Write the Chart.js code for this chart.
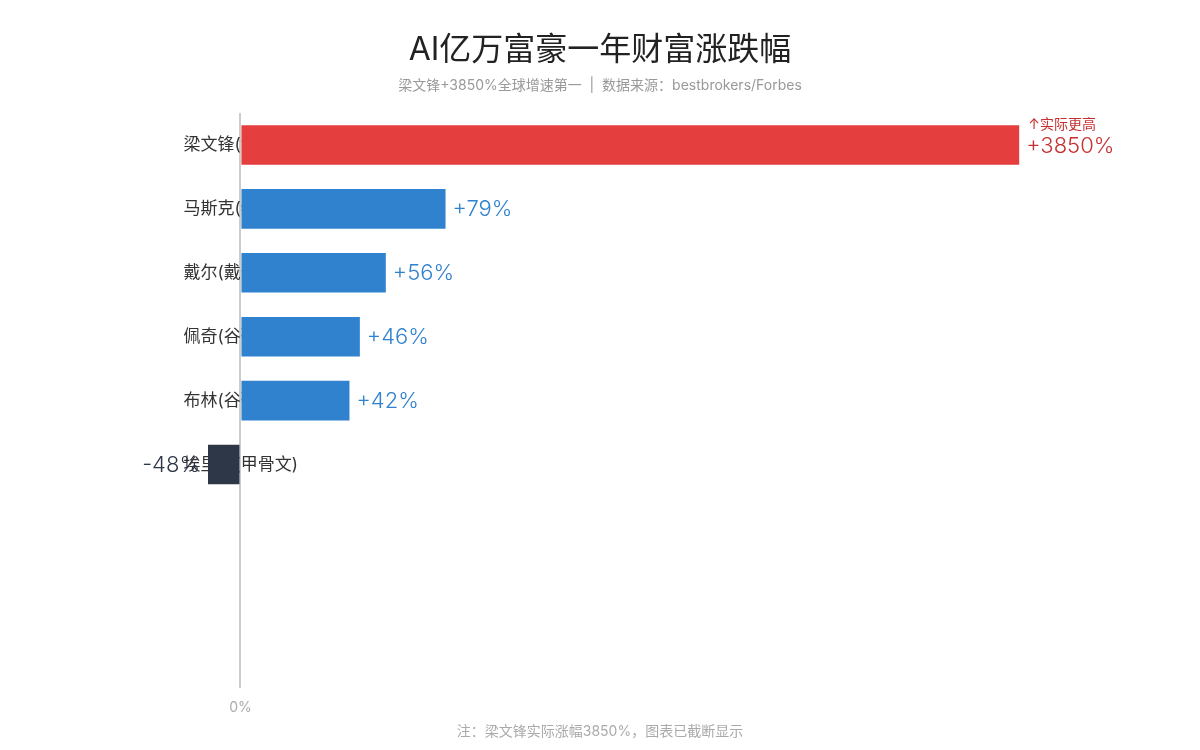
<!DOCTYPE html>
<html>
<head>
<meta charset="utf-8">
<script src="https://cdn.jsdelivr.net/npm/chart.js@4.4.1/dist/chart.umd.min.js"></script>
<style>
  html, body { margin: 0; padding: 0; background: #ffffff; }
  #wrap { width: 1200px; height: 750px; position: relative; }
</style>
</head>
<body>
<div id="wrap"><canvas id="c" width="1200" height="750"></canvas></div>
<script>
// ---- data ----
const names = ['梁文锋(深度求索)', '马斯克(特斯拉)', '戴尔(戴尔科技)', '佩奇(谷歌)', '布林(谷歌)', '埃里森(甲骨文)'];
const changes = [3850, 79, 56, 46, 42, -48];
const emptySlots = ['', '', ''];
const displayCap = 300;          // bars above this are truncated
const xTickLabels = ['0%'];
const titleText = 'AI亿万富豪一年财富涨跌幅';
const subtitleText = '梁文锋+3850%全球增速第一  |  数据来源：bestbrokers/Forbes';
const noteText = '注：梁文锋实际涨幅3850%，图表已截断显示';
const cappedNote = '↑实际更高';

// ---- styles ----
const FONT = 'Inter, "Noto Sans CJK SC", sans-serif';
const RED = '#e53e3e', RED_TEXT = '#c53030';
const BLUE = '#3182ce';
const DARK = '#2d3748';

const labels = names.concat(emptySlots);
const barData = changes.map(v => Math.min(v, displayCap)).concat(emptySlots.map(() => null));

function barColor(i) {
  const v = changes[i];
  if (v === undefined) return BLUE;
  if (v > displayCap) return RED;
  if (v < 0) return DARK;
  return BLUE;
}

const textPlugin = {
  id: 'textPlugin',
  beforeDatasetsDraw(chart) {
    const ctx = chart.ctx;
    const y = chart.scales.y;
    const x0 = chart.scales.x.getPixelForValue(0);
    ctx.save();
    ctx.font = '17px ' + FONT;
    ctx.fillStyle = '#333333';
    ctx.textAlign = 'left';
    ctx.textBaseline = 'middle';
    names.forEach((n, i) => {
      ctx.fillText(n, x0 - 57, y.getPixelForValue(i));
    });
    ctx.restore();
  },
  afterDatasetsDraw(chart) {
    const ctx = chart.ctx;
    const meta = chart.getDatasetMeta(0);
    const area = chart.chartArea;
    ctx.save();
    ctx.textBaseline = 'middle';
    changes.forEach((v, i) => {
      const el = meta.data[i];
      if (!el) return;
      const txt = (v > 0 ? '+' : '') + v + '%';
      ctx.font = '300 22px ' + FONT;
      if (v < 0) {
        ctx.fillStyle = DARK;
        ctx.textAlign = 'right';
        ctx.fillText(txt, Math.max(el.x, area.left) - 8, el.y + 1);
      } else {
        ctx.fillStyle = v > displayCap ? RED_TEXT : BLUE;
        ctx.textAlign = 'left';
        ctx.fillText(txt, el.x + 7, el.y + 1);
        if (v > displayCap) {
          ctx.font = '14px ' + FONT;
          ctx.fillStyle = RED_TEXT;
          ctx.fillText(cappedNote, el.x + 9, el.y - 20);
        }
      }
    });
    ctx.restore();
  },
  afterDraw(chart) {
    const ctx = chart.ctx;
    const W = chart.width;
    ctx.save();
    ctx.textAlign = 'center';
    ctx.textBaseline = 'middle';
    ctx.fillStyle = '#222222';
    ctx.font = '32px ' + FONT;
    ctx.fillText(titleText, W / 2, 50);
    ctx.fillStyle = '#999999';
    ctx.font = '14px ' + FONT;
    ctx.fillText(subtitleText, W / 2, 86);
    ctx.fillStyle = '#aaaaaa';
    ctx.fillText(noteText, W / 2, 732);
    ctx.restore();
  }
};

new Chart(document.getElementById('c'), {
  type: 'bar',
  data: {
    labels: labels,
    datasets: [{
      data: barData,
      backgroundColor: ctx => barColor(ctx.dataIndex),
      borderWidth: 0,
      barPercentage: 0.62,
      categoryPercentage: 1
    }]
  },
  options: {
    indexAxis: 'y',
    responsive: false,
    animation: false,
    devicePixelRatio: 1,
    layout: { padding: { top: 113, bottom: 23, left: 208, right: 51 } },
    plugins: { legend: { display: false }, tooltip: { enabled: false }, title: { display: false } },
    scales: {
      x: {
        type: 'linear',
        min: -12.5,
        max: 350,
        afterBuildTicks(scale) { scale.ticks = [{ value: 0 }]; },
        ticks: {
          callback: (v, i) => xTickLabels[i] || '',
          color: '#aaaaaa',
          font: { family: FONT, size: 14 },
          padding: 11
        },
        grid: {
          color: ctx => ctx.tick && ctx.tick.value === 0 ? '#cccccc' : 'rgba(0,0,0,0)',
          lineWidth: 2,
          drawTicks: false
        },
        border: { display: false }
      },
      y: {
        type: 'category',
        display: false
      }
    }
  },
  plugins: [textPlugin]
});
</script>
</body>
</html>
